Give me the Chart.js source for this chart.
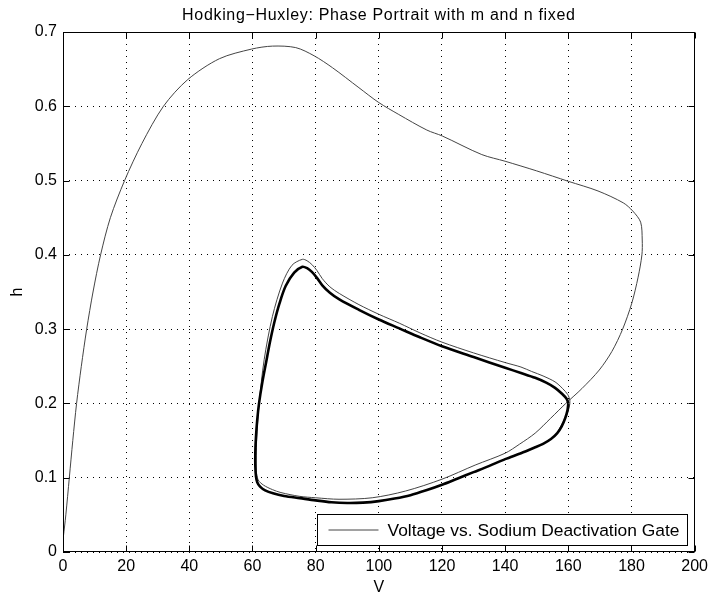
<!DOCTYPE html>
<html><head><meta charset="utf-8">
<script src="https://cdn.jsdelivr.net/npm/chart.js@4/dist/chart.umd.min.js"></script>
<style>html,body{margin:0;padding:0;background:#fff}canvas{display:block}</style>
</head><body><canvas id="c" width="713" height="593"></canvas>
<script>
const titleText = 'Hodking−Huxley: Phase Portrait with m and n fixed';
const xLabel = 'V';
const yLabel = 'h';
const seriesName = 'Voltage vs. Sodium Deactivation Gate';
const xTickValues = [0, 20, 40, 60, 80, 100, 120, 140, 160, 180, 200];
const yTickValues = [0, 0.1, 0.2, 0.3, 0.4, 0.5, 0.6, 0.7];

// transient trajectory (thin line)
const transientV = [0.1, 0.9, 2.0, 3.1, 4.3, 5.8, 7.5, 9.5, 11.9, 15.0, 19.5, 25.0, 31.8, 39.5, 49.5, 59.7, 66.3, 73.7, 79.5, 85.3, 93.7, 100, 106.3, 115.2, 120.1, 132.6, 140, 150, 160, 169.4, 177.4, 180.4, 182.9, 183.4, 183.3, 182.1, 180.1, 177.2, 173.8, 169.8, 164.3, 159.2, 154.4, 149.5, 144.5, 140, 130.5, 120, 108.4, 97.9, 87.4, 80, 74.8, 69, 66.3, 63.5, 61.8, 61.2, 61.3, 62.1, 63.7, 66.3, 69.5, 72.5, 75.8, 77.3, 78.8, 80.4, 82.1, 84.5, 87.5, 93.7, 100, 106.5, 113, 120, 130, 140, 145, 148.4, 152, 155.8, 158.2, 159.8, 160.5, 160.3, 159.7, 158.6, 157.2, 156.5];
const transientH = [0.02, 0.05, 0.1, 0.15, 0.2, 0.25, 0.3, 0.35, 0.4, 0.45, 0.5, 0.55, 0.6, 0.636, 0.664, 0.677, 0.681, 0.679, 0.668, 0.652, 0.625, 0.605, 0.589, 0.568, 0.56, 0.535, 0.526, 0.513, 0.499, 0.486, 0.47, 0.459, 0.444, 0.42, 0.40, 0.37, 0.335, 0.30, 0.27, 0.245, 0.22, 0.20, 0.18, 0.16, 0.145, 0.133, 0.117, 0.098, 0.082, 0.073, 0.071, 0.073, 0.075, 0.080, 0.084, 0.090, 0.097, 0.11, 0.15, 0.2, 0.259, 0.317, 0.362, 0.386, 0.394, 0.392, 0.387, 0.379, 0.368, 0.357, 0.348, 0.333, 0.320, 0.308, 0.295, 0.2825, 0.268, 0.255, 0.249, 0.243, 0.237, 0.229, 0.220, 0.212, 0.204, 0.195, 0.187, 0.177, 0.166, 0.160];

// limit cycle (thick line)
const cycleV = [160.0, 159.7, 159.0, 157.9, 156.5, 154.5, 152, 149, 145, 140, 135, 130, 125, 120, 115, 110, 105, 100, 95, 90, 85, 80, 75, 70, 66.5, 64, 62.4, 61.5, 61.1, 60.9, 60.9, 61.1, 61.5, 62.1, 63.1, 64.3, 65.5, 66.9, 68.5, 70.5, 73.2, 75.8, 77.3, 78.8, 80.4, 82.1, 84.5, 87.5, 93.7, 100, 106.5, 113, 120, 130, 140, 145, 149.5, 153, 155.8, 158, 159.5, 160.0];
const cycleH = [0.200, 0.190, 0.180, 0.169, 0.160, 0.152, 0.1455, 0.140, 0.133, 0.125, 0.116, 0.1075, 0.099, 0.0905, 0.083, 0.0765, 0.072, 0.0685, 0.0665, 0.066, 0.067, 0.0695, 0.0725, 0.0755, 0.079, 0.083, 0.088, 0.094, 0.102, 0.115, 0.135, 0.155, 0.178, 0.201, 0.228, 0.255, 0.282, 0.309, 0.334, 0.358, 0.376, 0.384, 0.382, 0.377, 0.369, 0.359, 0.349, 0.340, 0.326, 0.313, 0.301, 0.289, 0.277, 0.2625, 0.248, 0.241, 0.2345, 0.228, 0.221, 0.213, 0.206, 0.200];

const FONT = '"Liberation Sans", Arial, Helvetica, sans-serif';
Chart.defaults.font.family = FONT;
Chart.defaults.color = '#000';

const toPoints = (xs, ys) => xs.map((v, i) => ({x: v, y: ys[i]}));

const framePlugin = {
  id: 'frame',
  beforeDraw(chart) {
    const tb = chart.titleBlock;
    if (tb && !tb._spaced) {
      const orig = tb.draw.bind(tb);
      tb.draw = function (ca) {
        const c = chart.ctx;
        c.save();
        c.letterSpacing = '0.67px';
        orig(ca);
        c.restore();
      };
      tb._spaced = true;
    }
  },
  afterDraw(chart) {
    const {ctx, chartArea: a, scales: {x, y}} = chart;
    ctx.save();
    ctx.setLineDash([]);
    ctx.strokeStyle = '#000';
    ctx.lineWidth = 1;
    const L = Math.round(a.left) + 0.5, R = Math.round(a.right) - 0.5;
    const T = Math.round(a.top) + 0.5, B = Math.round(a.bottom) - 0.5;
    ctx.strokeRect(L, T, R - L, B - T);
    const tl = 6;
    ctx.beginPath();
    x.ticks.forEach(t => {
      const p = Math.round(x.getPixelForValue(t.value)) + 0.5;
      ctx.moveTo(p, B); ctx.lineTo(p, B - tl);
      ctx.moveTo(p, T); ctx.lineTo(p, T + tl);
    });
    y.ticks.forEach(t => {
      const p = Math.round(y.getPixelForValue(t.value)) + 0.5;
      ctx.moveTo(L, p); ctx.lineTo(L + tl, p);
      ctx.moveTo(R, p); ctx.lineTo(R - tl, p);
    });
    ctx.stroke();
    // legend box
    const ds = chart.data.datasets[0];
    ctx.font = '17.4px ' + FONT;
    const tw = ctx.measureText(ds.label).width;
    const bw = Math.round(70 + tw + 8), bh = 31;
    const bx = Math.round(a.right - 8 - bw) + 0.5, by = Math.round(a.bottom - 7 - bh) + 0.5;
    ctx.fillStyle = '#fff';
    ctx.fillRect(bx, by, bw, bh);
    ctx.strokeStyle = '#000';
    ctx.strokeRect(bx, by, bw, bh);
    ctx.strokeStyle = ds.borderColor;
    ctx.lineWidth = ds.borderWidth;
    ctx.beginPath();
    ctx.moveTo(bx + 11, by + bh / 2); ctx.lineTo(bx + 61, by + bh / 2);
    ctx.stroke();
    ctx.fillStyle = '#000';
    ctx.textBaseline = 'middle';
    ctx.textAlign = 'left';
    ctx.fillText(ds.label, bx + 70, by + bh / 2 + 1);
    ctx.restore();
  }
};

new Chart(document.getElementById('c'), {
  type: 'scatter',
  data: {
    datasets: [
      {label: seriesName, data: toPoints(transientV, transientH), showLine: true,
       borderColor: '#444', borderWidth: 1, pointRadius: 0, tension: 0.3, fill: false, order: 1},
      {label: 'limit cycle', data: toPoints(cycleV, cycleH), showLine: true,
       borderColor: '#000', borderWidth: 2.6, pointRadius: 0, tension: 0.3, fill: false, order: 0}
    ]
  },
  options: {
    responsive: false,
    devicePixelRatio: 1,
    animation: false,
    layout: {padding: {left: 0, right: 16, top: 0, bottom: 0}},
    plugins: {
      legend: {display: false},
      tooltip: {enabled: false},
      title: {display: true, text: titleText, color: '#000', fullSize: false,
              font: {size: 16, weight: 'normal', lineHeight: 1.2},
              padding: {top: 5.6, bottom: 7.2}}
    },
    scales: {
      x: {
        type: 'linear', min: 0, max: 200,
        afterBuildTicks: s => { s.ticks = xTickValues.map(v => ({value: v})); },
        afterFit: s => { s.height = 41; },
        ticks: {padding: 5, font: {size: 16}, color: '#000', maxRotation: 0, autoSkip: false},
        grid: {color: '#000', lineWidth: 1, drawTicks: false},
        border: {display: false, dash: [1, 5]},
        title: {display: true, text: xLabel, color: '#000', font: {size: 16, lineHeight: 0.7}, padding: 0}
      },
      y: {
        type: 'linear', min: 0, max: 0.7,
        afterBuildTicks: s => { s.ticks = yTickValues.map(v => ({value: v})); },
        afterFit: s => { s.width = 63; },
        ticks: {padding: 6, font: {size: 16}, color: '#000', autoSkip: false,
                callback: v => String(Math.round(v * 10) / 10)},
        grid: {color: '#000', lineWidth: 1, drawTicks: false},
        border: {display: false, dash: [1, 5]},
        title: {display: true, text: yLabel, color: '#000', font: {size: 16, lineHeight: 1.2}, padding: {top: 8, bottom: 0}}
      }
    }
  },
  plugins: [framePlugin]
});
</script>
</body></html>
